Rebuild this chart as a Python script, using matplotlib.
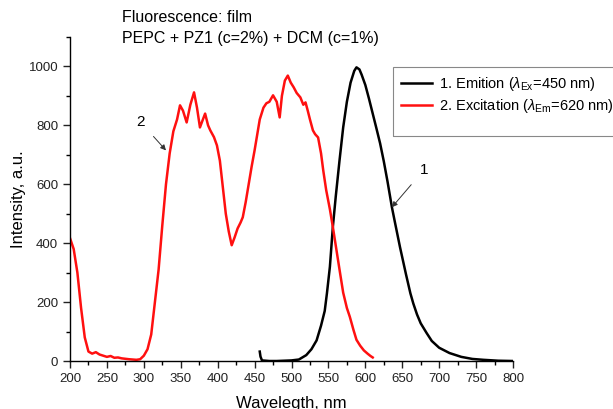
import matplotlib
matplotlib.use("Agg")
import matplotlib.pyplot as plt
from matplotlib.ticker import MultipleLocator
from matplotlib.patches import Rectangle

plt.rcParams['font.family'] = ['Liberation Sans', 'DejaVu Sans']
plt.rcParams['mathtext.fontset'] = 'custom'
plt.rcParams['mathtext.rm'] = 'Liberation Sans'
plt.rcParams['mathtext.it'] = 'Liberation Sans:italic'

# Excitation spectrum (lambda_Em = 620 nm)
exc_wl = [200, 205, 210, 215, 220, 225, 230, 235, 240, 245, 250, 255, 260, 265, 270, 280, 290, 295,
          300, 305, 310, 315, 320, 325, 330, 335, 340, 345, 349, 353, 358, 363, 368, 372, 376, 380,
          383, 387, 390, 395, 399, 403, 407, 411, 415, 419, 423, 427, 431, 434, 438, 442, 446, 450,
          453, 457, 462, 466, 470, 475, 480, 484, 487, 491, 495, 499, 503, 507, 512, 516, 519, 522,
          525, 529, 532, 536, 540, 543, 547, 552, 556, 561, 566, 570, 575, 579, 584, 588, 593, 598,
          603, 607, 610]
exc_int = [417, 380, 300, 180, 80, 32, 25, 30, 22, 18, 14, 17, 11, 12, 9, 6, 4, 6,
           18, 40, 90, 200, 310, 460, 600, 705, 780, 820, 868, 850, 810, 870, 912, 860, 793, 820,
           840, 800, 783, 760, 732, 680, 590, 500, 440, 393, 420, 450, 470, 488, 540, 600, 660, 715,
           760, 820, 860, 875, 880, 902, 880, 827, 900, 952, 969, 945, 929, 910, 895, 870, 878, 850,
           820, 783, 770, 759, 705, 647, 580, 515, 455, 375, 295, 232, 180, 150, 105, 72, 52, 36,
           25, 17, 12]

# Emission spectrum (lambda_Ex = 450 nm)
em_wl = [457, 458, 460, 470, 480, 490, 500, 510, 520, 527, 534, 540, 545, 548, 552, 556, 560,
         565, 570, 575, 580, 585, 588, 592, 595, 600, 605, 610, 615, 620, 625, 630, 636, 640, 647,
         650, 655, 661, 665, 670, 675, 683, 690, 700, 714, 730, 745, 760, 780, 800]
em_int = [32, 15, 2, 0, 0, 1, 2, 5, 20, 40, 70, 120, 170, 230, 320, 455, 560,
          680, 793, 880, 945, 985, 997, 990, 972, 937, 890, 840, 790, 739, 678, 610, 522, 472, 386,
          352, 295, 230, 195, 158, 128, 95, 68, 45, 27, 14, 7, 4, 1, 0]

fig = plt.figure(figsize=(6.13, 4.09), dpi=100)
ax = fig.add_axes([70/613, 1-361/409, 443/613, 324/409])

l1, = ax.plot(em_wl, em_int, color='black', lw=1.8, label=r'1. Emition ($\lambda_{\mathrm{Ex}}$=450 nm)')
l2, = ax.plot(exc_wl, exc_int, color='#ff1010', lw=1.8, label=r'2. Excitation ($\lambda_{\mathrm{Em}}$=620 nm)')

ax.set_xlim(200, 800)
ax.set_ylim(0, 1100)
ax.xaxis.set_major_locator(MultipleLocator(50))
ax.xaxis.set_minor_locator(MultipleLocator(25))
ax.yaxis.set_minor_locator(MultipleLocator(100))
ax.set_yticks([0, 200, 400, 600, 800, 1000])
for s in ['top', 'right']:
    ax.spines[s].set_visible(False)
for s in ['left', 'bottom']:
    ax.spines[s].set_linewidth(1.0)
ax.tick_params(which='major', direction='out', length=5, width=1, labelsize=9.5, colors='#222222')
ax.tick_params(which='minor', direction='out', length=3, width=1)

ax.set_xlabel('Wavelegth, nm', fontsize=12, labelpad=8)
ax.set_ylabel('Intensity, a.u.', fontsize=12)
ax.yaxis.set_label_coords(-0.10, 0.5)

fig.text(122/613, 1-17/409, 'Fluorescence: film', fontsize=11.5, va='center', ha='left')
fig.text(122/613, 1-38/409, 'PEPC + PZ1 (c=2%) + DCM (c=1%)', fontsize=11.5, va='center', ha='left')

ax.annotate('2', xy=(330, 715), xytext=(296, 810), fontsize=11, ha='center', va='center',
            arrowprops=dict(arrowstyle='-|>', color='#333333', lw=0.7, mutation_scale=8, shrinkA=6, shrinkB=0))
ax.annotate('1', xy=(636, 522), xytext=(679, 648), fontsize=11, ha='center', va='center',
            arrowprops=dict(arrowstyle='-|>', color='#333333', lw=0.7, mutation_scale=8, shrinkA=6, shrinkB=0))

leg = fig.legend(handles=[l1, l2], loc='upper left', bbox_to_anchor=(393/613, 1-67/409),
                 fontsize=10.5, frameon=False,
                 handlelength=2.1, handletextpad=0.5, borderpad=0.55, labelspacing=0.28,
                 borderaxespad=0)
fig.patches.append(Rectangle((393/613, 1-136/409), (616-393)/613, 69/409,
                             transform=fig.transFigure, fill=False, edgecolor='#888888', lw=0.8))

fig.savefig('out.png', dpi=100)
